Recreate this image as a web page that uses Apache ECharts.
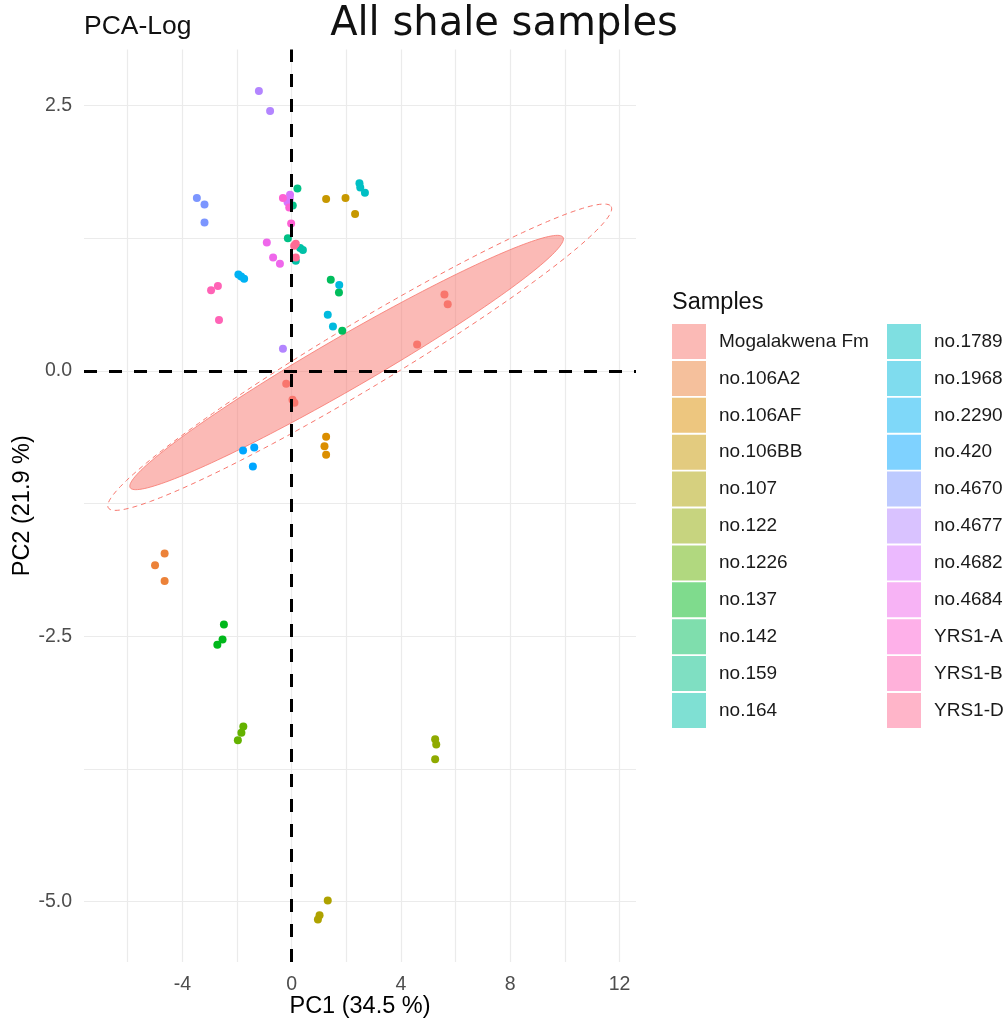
<!DOCTYPE html>
<html>
<head>
<meta charset="utf-8">
<script src="https://cdn.jsdelivr.net/npm/echarts@6/dist/echarts.min.js"></script>
<style>
html,body{margin:0;padding:0;background:#fff;}
#chart{width:1008px;height:1022px;}
</style>
</head>
<body>
<div id="chart"></div>
<script>
// ---------------- data ----------------
const sampleNames = ['Mogalakwena Fm','no.106A2','no.106AF','no.106BB','no.107','no.122','no.1226','no.137','no.142','no.159','no.164',
  'no.1789','no.1968','no.2290','no.420','no.4670','no.4677','no.4682','no.4684','YRS1-A','YRS1-B','YRS1-D'];

const ptsMogalakwena = [[5.59,0.72],[5.71,0.63],[4.59,0.25],[-0.20,-0.12],[0.03,-0.27],[0.10,-0.30]];
const pts106A2 = [[-4.65,-1.72],[-5.00,-1.83],[-4.65,-1.98]];
const pts106AF = [[1.26,-0.62],[1.20,-0.71],[1.26,-0.79]];
const pts106BB = [[1.26,1.62],[1.97,1.63],[2.32,1.48]];
const pts107 = [[1.32,-4.99],[1.02,-5.13],[0.96,-5.17]];
const pts122 = [[5.25,-3.47],[5.29,-3.52],[5.25,-3.66]];
const pts1226 = [[-1.77,-3.35],[-1.84,-3.41],[-1.97,-3.48]];
const pts137 = [[-2.48,-2.39],[-2.53,-2.53],[-2.72,-2.58]];
const pts142 = [[1.43,0.86],[1.73,0.74],[1.85,0.38]];
const pts159 = [[0.21,1.72],[0.04,1.56],[-0.14,1.25]];
const pts164 = [[0.31,1.16],[0.41,1.14],[0.15,1.04]];
const pts1789 = [[2.48,1.77],[2.51,1.73],[2.68,1.68]];
const pts1968 = [[1.74,0.81],[1.32,0.53],[1.51,0.42]];
const pts2290 = [[-1.95,0.91],[-1.85,0.89],[-1.74,0.87]];
const pts420 = [[-1.78,-0.75],[-1.37,-0.72],[-1.42,-0.90]];
const pts4670 = [[-3.47,1.63],[-3.19,1.57],[-3.19,1.40]];
const pts4677 = [[-1.20,2.64],[-0.79,2.45],[-0.32,0.21]];
const pts4682 = [[-0.06,1.66],[-0.15,1.59],[-0.07,1.62]];
const pts4684 = [[-0.91,1.21],[-0.68,1.07],[-0.43,1.01]];
const ptsYRS1A = [[-0.32,1.63],[-0.09,1.54],[-0.02,1.39]];
const ptsYRS1B = [[-2.95,0.76],[-2.70,0.80],[-2.66,0.48]];
const ptsYRS1D = [[0.15,1.20],[0.15,1.07],[0.09,1.18]];

const samplePoints = [ptsMogalakwena,pts106A2,pts106AF,pts106BB,pts107,pts122,pts1226,pts137,pts142,pts159,pts164,
  pts1789,pts1968,pts2290,pts420,pts4670,pts4677,pts4682,pts4684,ptsYRS1A,ptsYRS1B,ptsYRS1D];

// Mogalakwena Fm ellipses: centre and two conjugate semi-axes, data units
const fillEllipseCenter = [2.01, 0.08];
const fillEllipseMajor = [7.92, 1.18];
const fillEllipseMinor = [0.48, -0.21];
const dashEllipseCenter = [2.49, 0.13];
const dashEllipseMajor = [9.20, 1.42];
const dashEllipseMinor = [0.61, -0.26];

const xTicks = [-6,-4,-2,0,2,4,6,8,10,12];
const xLabels = [-4,0,4,8,12];
const yTicks = [-5,-3.75,-2.5,-1.25,0,1.25,2.5];
const yLabels = [-5,-2.5,0,2.5];
const refLines = [0];

// ---------------- palette (ggplot hue_pal) ----------------
function hcl(h, c, l) {
  const hr = h * Math.PI / 180;
  const U = c * Math.cos(hr), V = c * Math.sin(hr);
  const Xn = 95.047, Yn = 100, Zn = 108.883;
  const Y = l > 8 ? Yn * Math.pow((l + 16) / 116, 3) : Yn * l / 903.3;
  const den = Xn + 15 * Yn + 3 * Zn;
  const un = 4 * Xn / den, vn = 9 * Yn / den;
  const up = U / (13 * l) + un, vp = V / (13 * l) + vn;
  const X = Y * 9 * up / (4 * vp);
  const Z = Y * (12 - 3 * up - 20 * vp) / (4 * vp);
  const x = X / 100, y = Y / 100, z = Z / 100;
  let rgb = [3.240479 * x - 1.537150 * y - 0.498535 * z,
             -0.969256 * x + 1.875992 * y + 0.041556 * z,
             0.055648 * x - 0.204043 * y + 1.057311 * z];
  rgb = rgb.map(v => {
    v = v <= 0.0031308 ? 12.92 * v : 1.055 * Math.pow(v, 1 / 2.4) - 0.055;
    return Math.round(Math.max(0, Math.min(1, v)) * 255);
  });
  return rgb;
}
const n = sampleNames.length;
const palette = sampleNames.map((_, i) => hcl((15 + i * 360 / n) % 360, 100, 65));
const rgbStr = (c, a) => a === undefined ? `rgb(${c[0]},${c[1]},${c[2]})` : `rgba(${c[0]},${c[1]},${c[2]},${a})`;

// ---------------- ellipse outline (data units) ----------------
function ellipsePts(c, A, B) {
  const out = [];
  for (let k = 0; k <= 180; k++) {
    const t = 2 * Math.PI * k / 180;
    out.push([c[0] + A[0] * Math.cos(t) + B[0] * Math.sin(t),
              c[1] + A[1] * Math.cos(t) + B[1] * Math.sin(t)]);
  }
  return out;
}

const chart = echarts.init(document.getElementById('chart'), null, {renderer: 'canvas'});

const series = [];
series.push({
  type: 'line', name: '_ref', data: [], z: 1, silent: true,
  markLine: {
    symbol: ['none', 'none'], silent: true, animation: false,
    label: {show: false},
    lineStyle: {color: '#000', width: 3, type: [13, 12]},
    data: [{xAxis: refLines[0]}, {yAxis: refLines[0]}]
  }
});
function ellipseSeries(name, c, A, B, style) {
  return {
    type: 'custom', name: name, z: 2, silent: true, animation: false,
    data: [[0, 0]],
    renderItem: function (params, api) {
      const pts = ellipsePts(c, A, B).map(p => api.coord(p));
      return {type: 'polygon', shape: {points: pts}, style: style};
    }
  };
}
series.push(ellipseSeries('_ellipseDash', dashEllipseCenter, dashEllipseMajor, dashEllipseMinor,
  {fill: 'none', stroke: rgbStr(palette[0]), lineWidth: 1, lineDash: [5, 4]}));
series.push(ellipseSeries('_ellipseFill', fillEllipseCenter, fillEllipseMajor, fillEllipseMinor,
  {fill: rgbStr(palette[0], 0.5), stroke: rgbStr(palette[0]), lineWidth: 0.8}));

sampleNames.forEach((name, i) => {
  series.push({
    type: 'scatter', name: name, z: 3, symbolSize: 8, animation: false,
    itemStyle: {color: rgbStr(palette[i]), opacity: 1},
    data: samplePoints[i]
  });
});

const legendBase = {
  orient: 'vertical', icon: 'rect', itemWidth: 34, itemHeight: 35, itemGap: 1.9,
  selectedMode: false, padding: 0,
  textStyle: {fontFamily: 'Liberation Sans', fontSize: 19, color: '#1a1a1a', padding: [0, 0, 0, 8]}
};
const legendData = sampleNames.map((name, i) => ({name: name, itemStyle: {color: rgbStr(palette[i], 0.5)}}));

chart.setOption({
  animation: false,
  backgroundColor: '#fff',
  title: [{
    text: 'All shale samples', left: 'center', top: 5, padding: 0,
    textStyle: {fontFamily: 'DejaVu Sans', fontSize: 40, fontWeight: 'normal', color: '#111'}
  }, {
    text: 'PCA-Log', left: 84, top: 13, padding: 0,
    textStyle: {fontFamily: 'Liberation Sans', fontSize: 26.5, fontWeight: 'normal', color: '#111'}
  }, {
    text: 'Samples', left: 672, top: 291, padding: 0,
    textStyle: {fontFamily: 'Liberation Sans', fontSize: 23.5, fontWeight: 'normal', color: '#111'}
  }],
  grid: {left: 84, right: 372, top: 49.5, bottom: 60, containLabel: false, outerBoundsMode: 'none'},
  xAxis: {
    type: 'value', min: -7.6, max: 12.6,
    name: 'PC1 (34.5 %)', nameLocation: 'middle', nameGap: 33, nameMoveOverlap: false,
    nameTextStyle: {fontFamily: 'Liberation Sans', fontSize: 23.5, color: '#000'},
    axisLine: {show: false}, axisTick: {show: false, customValues: xTicks},
    axisLabel: {customValues: xLabels, margin: 13, fontFamily: 'Liberation Sans', fontSize: 19.5, color: '#4d4d4d',
      formatter: v => String(v)},
    splitLine: {show: true, lineStyle: {color: '#ebebeb', width: 1.2}}
  },
  yAxis: {
    type: 'value', min: -5.57, max: 3.03,
    name: 'PC2 (21.9 %)', nameLocation: 'middle', nameGap: 49, nameMoveOverlap: false,
    nameTextStyle: {fontFamily: 'Liberation Sans', fontSize: 23.5, color: '#000'},
    axisLine: {show: false}, axisTick: {show: false, customValues: yTicks},
    axisLabel: {customValues: yLabels, margin: 12, fontFamily: 'Liberation Sans', fontSize: 19.5, color: '#4d4d4d',
      formatter: v => v.toFixed(1)},
    splitLine: {show: true, lineStyle: {color: '#ebebeb', width: 1.2}}
  },
  legend: [
    Object.assign({}, legendBase, {left: 672, top: 324, data: legendData.slice(0, 11)}),
    Object.assign({}, legendBase, {left: 887, top: 324, data: legendData.slice(11)})
  ],
  series: series
});
</script>
</body>
</html>
